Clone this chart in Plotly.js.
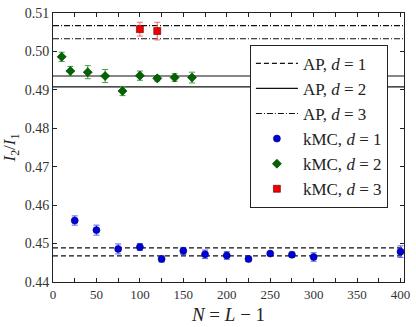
<!DOCTYPE html>
<html>
<head>
<meta charset="utf-8">
<script src="https://cdn.plot.ly/plotly-3.0.1.min.js"></script>
<style>html,body{margin:0;padding:0;background:#fff;}#chart{width:416px;height:327px;}</style>
</head>
<body>
<div id="chart"></div>
<script>
// AP reference levels (two lines each)
const apD1 = [0.4489, 0.4468];
const apD2 = [0.4936, 0.4908];
const apD3 = [0.5067, 0.5033];
const apX = [0, 405];

// kMC d=1
const n1 = [25, 50, 75, 100, 125, 150, 175, 200, 225, 250, 275, 300, 400];
const r1 = [0.4560, 0.4535, 0.4486, 0.4491, 0.4460, 0.4481, 0.4472, 0.4469, 0.4460, 0.4474, 0.4471, 0.4465, 0.4479];
const e1 = [0.0012, 0.0013, 0.0013, 0.0009, 0.0008, 0.0009, 0.0011, 0.0010, 0.0007, 0.0003, 0.0007, 0.0011, 0.0015];

// kMC d=2
const n2 = [10, 20, 40, 60, 80, 100, 120, 140, 160];
const r2 = [0.4986, 0.4949, 0.4946, 0.4936, 0.4897, 0.4937, 0.4930, 0.4932, 0.4932];
const e2 = [0.0012, 0.0012, 0.0017, 0.0017, 0.0012, 0.0012, 0.0007, 0.0010, 0.0014];

// kMC d=3
const n3 = [100, 120];
const r3 = [0.5058, 0.5053];
const e3 = [0.0018, 0.0023];

function lineTrace(vals, dash, name, grp) {
  return {
    x: [apX[0], apX[1], null, apX[0], apX[1]],
    y: [vals[0], vals[0], null, vals[1], vals[1]],
    mode: 'lines', name: name, legendgroup: grp,
    line: {color: '#111', width: 1.2, dash: dash},
    connectgaps: false, hoverinfo: 'skip'
  };
}

const serif = 'Liberation Serif, DejaVu Serif, serif';

const traces = [
  lineTrace(apD1, '5px,3px', 'AP, <i>d</i> = 1', 'g1'),
  lineTrace(apD2, 'solid', 'AP, <i>d</i> = 2', 'g2'),
  lineTrace(apD3, '6px,2px,1px,2px', 'AP, <i>d</i> = 3', 'g3'),
  {
    x: n1, y: r1, mode: 'markers', name: 'kMC, <i>d</i> = 1', legendgroup: 'g4',
    error_y: {type: 'data', array: e1, visible: true, color: '#5060ff', thickness: 1, width: 3},
    marker: {symbol: 'circle', size: 7, color: '#0000dd', line: {color: '#000060', width: 0.6}}
  },
  {
    x: n2, y: r2, mode: 'markers', name: 'kMC, <i>d</i> = 2', legendgroup: 'g5',
    error_y: {type: 'data', array: e2, visible: true, color: '#40a040', thickness: 1, width: 3},
    marker: {symbol: 'diamond', size: 7, color: '#006400', line: {color: '#003000', width: 0.6}}
  },
  {
    x: n3, y: r3, mode: 'markers', name: 'kMC, <i>d</i> = 3', legendgroup: 'g6',
    error_y: {type: 'data', array: e3, visible: true, color: '#ff6060', thickness: 1, width: 3},
    marker: {symbol: 'square', size: 7, color: '#ee0000', line: {color: '#600000', width: 0.6}}
  }
];

const layout = {
  width: 416, height: 327,
  margin: {l: 53, r: 12, t: 13, b: 45},
  paper_bgcolor: '#fff', plot_bgcolor: '#fff',
  font: {family: serif, color: '#222', size: 13},
  showlegend: true,
  legend: {
    x: 0.561, y: 0.882, xanchor: 'left', yanchor: 'top',
    bgcolor: '#fff', bordercolor: '#222', borderwidth: 1,
    font: {family: serif, size: 17, color: '#222'},
    tracegroupgap: 3, traceorder: 'normal', itemwidth: 42
  },
  xaxis: {
    range: [0, 404], tickvals: [0, 50, 100, 150, 200, 250, 300, 350, 400],
    ticks: 'inside', ticklen: 4, tickcolor: '#222', mirror: 'ticks',
    showline: true, linecolor: '#222', linewidth: 1, showgrid: false, zeroline: false,
    minor: {dtick: 25, tick0: 0, ticks: 'inside', ticklen: 4, tickcolor: '#222', showgrid: false},
    tickfont: {size: 13, family: serif, color: '#333'},
    title: {text: '<i>N</i> = <i>L</i> − 1', font: {size: 19, family: serif, color: '#222'}, standoff: 7}
  },
  yaxis: {
    range: [0.44, 0.51], tickvals: [0.44, 0.45, 0.46, 0.47, 0.48, 0.49, 0.50, 0.51],
    ticktext: ['0.44', '0.45', '0.46', '0.47', '0.48', '0.49', '0.50', '0.51'],
    ticks: 'inside', ticklen: 4, tickcolor: '#222', mirror: 'ticks',
    showline: true, linecolor: '#222', linewidth: 1, showgrid: false, zeroline: false,
    tickfont: {size: 14, family: serif, color: '#333'},
    title: {text: '<i>I</i><sub>2</sub>/<i>I</i><sub>1</sub>', font: {size: 17, family: serif, color: '#222'}, standoff: 4}
  }
};

Plotly.newPlot('chart', traces, layout, {displayModeBar: false, staticPlot: true});
</script>
</body>
</html>
